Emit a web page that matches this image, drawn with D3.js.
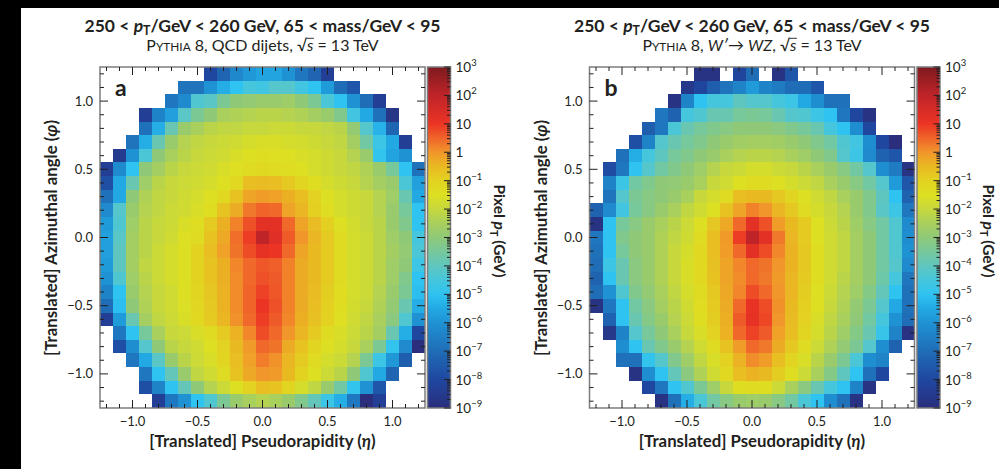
<!DOCTYPE html>
<html>
<head>
<meta charset="utf-8">
<script src="https://cdn.jsdelivr.net/npm/d3@7"></script>
<style>
  html, body { margin: 0; padding: 0; background: #fff; }
  svg { display: block; }
  text { font-family: Lato, "Noto Sans", sans-serif; fill: #231f20; }
</style>
</head>
<body>
<svg id="chart" width="999" height="469"></svg>
<script>
// --- 1. data ---
const _ = null;
const etaBins = [-1.2, -1.1, -1.0, -0.9, -0.8, -0.7, -0.6, -0.5, -0.4, -0.3, -0.2, -0.1, 0.0,
                 0.1, 0.2, 0.3, 0.4, 0.5, 0.6, 0.7, 0.8, 0.9, 1.0, 1.1, 1.2];
const phiBins = [1.2, 1.1, 1.0, 0.9, 0.8, 0.7, 0.6, 0.5, 0.4, 0.3, 0.2, 0.1, 0.0,
                 -0.1, -0.2, -0.3, -0.4, -0.5, -0.6, -0.7, -0.8, -0.9, -1.0, -1.1, -1.2];
const axisTicks = [-1, -0.5, 0, 0.5, 1];
const axisTickLabels = ["\u22121.0", "\u22120.5", "0.0", "0.5", "1.0"];
const colorTickExp = [3, 2, 1, 0, -1, -2, -3, -4, -5, -6, -7, -8, -9];
const colorTickBase = ["10", "10", "10", "1", "10", "10", "10", "10", "10", "10", "10", "10", "10"];
const colorTickSup = ["3", "2", "", "", "\u22121", "\u22122", "\u22123", "\u22124", "\u22125", "\u22126", "\u22127", "\u22128", "\u22129"];

// log10(pixel pT / GeV), rows from phi = +1.2 (top) down to -1.2
const qcdLogPt = [
  [_,_,_,_,_,_,_,_,-8.0,-7.2,-6.3,-5.9,-5.6,-5.6,-6.0,-6.7,-7.2,-8.3,_,_,_,_,_,_,_],
  [_,_,_,_,_,_,-6.8,-6.8,-6.0,-5.4,-5.0,-4.5,-4.6,-4.2,-4.2,-4.6,-5.0,-5.8,-7.0,-7.6,_,_,_,_,_],
  [_,_,_,_,_,-6.7,-6.2,-4.3,-4.1,-3.4,-3.0,-2.9,-2.8,-2.8,-2.7,-3.0,-3.4,-4.4,-5.0,-6.0,-7.0,-8.3,_,_,_],
  [_,_,_,-8.3,-6.4,-5.7,-4.1,-3.4,-3.0,-2.5,-2.4,-2.3,-2.2,-2.2,-2.3,-2.4,-2.6,-2.8,-3.3,-4.6,-5.5,-6.9,-8.7,_,_],
  [_,_,_,-6.9,-5.4,-3.8,-2.8,-2.5,-2.2,-2.1,-2.1,-2.0,-2.0,-1.9,-1.9,-2.0,-2.0,-2.1,-2.2,-2.9,-4.2,-5.3,-7.2,_,_],
  [_,_,-6.8,-5.4,-3.8,-2.8,-2.3,-2.1,-2.0,-1.9,-1.8,-1.7,-1.6,-1.6,-1.7,-1.75,-1.85,-2.0,-2.1,-2.6,-3.6,-4.7,-5.5,-8.3,_],
  [_,-8.5,-6.0,-4.4,-3.0,-2.5,-2.2,-2.0,-1.9,-1.8,-1.6,-1.5,-1.4,-1.45,-1.5,-1.6,-1.7,-1.85,-2.0,-2.3,-2.8,-4.9,-5.6,-6.0,_],
  [-8.3,-6.2,-5.0,-3.0,-2.6,-2.2,-2.0,-1.9,-1.8,-1.6,-1.45,-1.3,-1.25,-1.3,-1.4,-1.5,-1.7,-1.85,-2.0,-2.1,-2.4,-2.8,-3.5,-5.0,-6.9],
  [-7.8,-5.5,-3.8,-2.7,-2.2,-2.0,-1.9,-1.8,-1.7,-1.5,-1.2,-0.6,-0.55,-0.6,-0.8,-1.1,-1.4,-1.7,-1.85,-2.0,-2.3,-2.6,-2.8,-4.4,-5.7],
  [-6.9,-5.5,-3.0,-2.4,-2.1,-2.0,-1.8,-1.7,-1.5,-1.2,-0.7,-0.2,-0.1,-0.15,-0.35,-0.6,-1.0,-1.5,-1.7,-1.85,-2.0,-2.3,-2.7,-3.8,-5.5],
  [-6.2,-4.2,-2.8,-2.3,-2.1,-1.9,-1.8,-1.6,-1.4,-0.7,-0.3,0.3,0.5,0.45,-0.2,-0.45,-0.95,-1.4,-1.7,-1.85,-2.0,-2.3,-2.8,-3.5,-5.0],
  [-5.8,-4.3,-2.7,-2.2,-2.0,-1.9,-1.6,-1.4,-0.85,-0.35,0.2,0.7,1.2,1.2,0.45,-0.2,-0.55,-0.95,-1.5,-1.75,-2.0,-2.2,-2.8,-3.3,-5.0],
  [-5.7,-4.1,-2.6,-2.2,-2.0,-1.8,-1.5,-1.3,-0.7,-0.25,0.4,0.9,2.0,1.3,0.6,0.0,-0.45,-0.85,-1.3,-1.7,-1.9,-2.2,-2.7,-3.0,-4.5],
  [-5.7,-4.0,-2.6,-2.2,-1.9,-1.7,-1.5,-1.05,-0.6,-0.15,0.35,0.75,1.15,1.0,0.45,-0.2,-0.5,-0.85,-1.3,-1.7,-1.9,-2.2,-2.6,-2.9,-4.4],
  [-5.8,-4.0,-2.6,-2.1,-1.9,-1.7,-1.5,-1.05,-0.7,-0.35,0.15,0.45,0.65,0.55,0.2,-0.3,-0.5,-0.85,-1.3,-1.7,-1.9,-2.2,-2.7,-3.0,-4.7],
  [-6.0,-4.3,-2.7,-2.2,-1.9,-1.7,-1.5,-1.05,-0.7,-0.35,0.1,0.45,0.7,0.6,0.2,-0.3,-0.5,-0.85,-1.3,-1.7,-1.9,-2.2,-2.7,-3.3,-5.0],
  [-6.4,-5.0,-2.8,-2.3,-2.0,-1.8,-1.5,-1.1,-0.75,-0.4,0.1,0.5,0.85,0.65,0.2,-0.3,-0.55,-0.9,-1.35,-1.7,-1.9,-2.3,-2.8,-3.4,-5.1],
  [-7.0,-5.1,-3.0,-2.4,-2.0,-1.8,-1.55,-1.15,-0.8,-0.4,0.1,0.5,1.0,0.7,0.2,-0.3,-0.6,-0.95,-1.4,-1.75,-2.0,-2.4,-2.9,-3.8,-5.4],
  [-8.3,-5.8,-3.8,-2.6,-2.1,-1.9,-1.6,-1.2,-0.85,-0.45,0.05,0.45,0.9,0.6,0.15,-0.35,-0.65,-1.0,-1.45,-1.8,-2.1,-2.5,-3.1,-4.3,-6.0],
  [_,-6.7,-5.0,-3.5,-2.5,-2.0,-1.9,-1.6,-1.3,-0.85,-0.4,0.15,0.75,0.45,0.0,-0.45,-0.85,-1.3,-1.6,-1.9,-2.2,-2.6,-3.8,-5.4,-8.0],
  [_,-7.8,-6.1,-4.2,-3.0,-2.2,-2.0,-1.8,-1.5,-1.0,-0.5,-0.05,0.45,0.35,-0.3,-0.7,-1.1,-1.5,-1.7,-2.0,-2.5,-3.4,-4.9,-6.2,-9.0],
  [_,_,-6.7,-5.5,-4.1,-2.8,-2.2,-1.9,-1.6,-1.1,-0.6,-0.15,0.25,0.05,-0.45,-0.85,-1.3,-1.7,-1.9,-2.3,-3.4,-4.7,-5.9,-7.4,_],
  [_,_,_,-6.7,-5.0,-3.9,-2.8,-2.1,-1.8,-1.3,-0.7,-0.25,0.0,-0.05,-0.5,-1.05,-1.5,-1.9,-2.2,-3.0,-4.3,-5.5,-7.2,_,_],
  [_,_,_,-7.8,-6.4,-5.0,-3.9,-3.0,-2.3,-1.9,-1.5,-1.0,-0.6,-0.7,-1.1,-1.7,-2.1,-2.8,-3.6,-4.9,-6.0,-7.6,_,_,_],
  [_,_,_,_,-8.3,-6.7,-6.0,-5.0,-4.3,-3.4,-2.8,-2.5,-2.3,-2.5,-2.8,-3.3,-3.9,-4.7,-5.4,-6.7,-9.0,-8.3,_,_,_]
];

const wzLogPt = [
  [_,_,_,_,_,_,_,_,-8.8,-8.8,_,-8.1,-7.0,_,-8.8,-7.6,_,_,_,_,_,_,_,_,_],
  [_,_,_,_,_,_,_,-8.6,-8.1,-7.4,-6.8,-6.4,-5.8,-6.4,-6.6,-7.0,-7.0,-7.6,_,_,_,_,_,_,_],
  [_,_,_,_,_,_,-8.8,-6.4,-5.0,-4.5,-4.5,-4.0,-4.2,-4.2,-4.5,-4.7,-5.5,-6.1,-6.9,-6.9,_,_,_,_,_],
  [_,_,_,_,_,-6.7,-7.3,-4.5,-4.3,-3.8,-3.8,-3.5,-3.4,-3.5,-3.8,-4.2,-4.3,-4.7,-5.0,-6.7,-8.0,-8.8,_,_,_],
  [_,_,_,_,-7.4,-6.7,-4.4,-3.8,-3.5,-3.3,-3.15,-3.0,-3.0,-3.0,-3.1,-3.3,-3.5,-3.8,-4.5,-5.0,-6.1,-8.0,_,_,_],
  [_,_,_,-7.8,-6.4,-4.2,-3.8,-3.5,-3.3,-3.0,-2.8,-2.65,-2.6,-2.6,-2.65,-2.8,-3.0,-3.3,-3.6,-4.3,-4.6,-6.1,-8.0,-9.0,_],
  [_,_,-6.9,-5.4,-4.5,-4.0,-3.5,-3.3,-3.0,-2.8,-2.5,-2.3,-2.2,-2.2,-2.3,-2.5,-2.7,-3.0,-3.3,-4.2,-4.7,-6.2,-7.3,-7.6,_],
  [_,-7.9,-6.7,-5.0,-4.2,-3.6,-3.3,-3.0,-2.7,-2.3,-2.0,-1.9,-1.7,-1.7,-1.9,-2.0,-2.2,-2.5,-2.8,-3.15,-3.6,-4.2,-6.1,-6.6,-8.8],
  [_,-6.4,-4.7,-3.6,-3.3,-3.0,-2.95,-2.8,-2.5,-2.0,-1.8,-1.5,-1.3,-1.3,-1.5,-1.7,-1.9,-2.1,-2.5,-2.8,-3.15,-3.6,-4.2,-5.8,-7.6],
  [_,-6.8,-4.2,-3.4,-3.15,-3.0,-2.8,-2.5,-2.0,-1.7,-1.3,-0.6,-0.5,-0.5,-0.8,-1.1,-1.5,-1.8,-2.1,-2.5,-2.8,-3.3,-4.0,-5.0,-7.3],
  [-7.3,-6.2,-4.6,-3.5,-3.15,-2.8,-2.5,-2.1,-1.8,-1.5,-0.7,-0.2,0.2,0.0,-0.45,-0.8,-1.3,-1.7,-2.0,-2.3,-2.8,-3.3,-4.1,-4.7,-6.7],
  [-8.8,-5.0,-3.5,-3.15,-2.8,-2.5,-2.2,-1.9,-1.5,-0.75,-0.25,0.45,1.2,0.7,-0.1,-0.5,-0.85,-1.5,-1.9,-2.2,-2.7,-3.15,-3.6,-4.3,-6.2],
  [-6.7,-5.0,-3.3,-3.0,-2.8,-2.4,-2.1,-1.8,-1.3,-0.6,-0.05,0.9,2.0,1.2,0.3,-0.45,-0.85,-1.5,-1.8,-2.1,-2.6,-3.0,-3.6,-4.3,-6.1],
  [-6.9,-5.0,-3.5,-3.0,-2.8,-2.4,-2.0,-1.7,-1.2,-0.6,-0.1,0.45,1.2,0.75,0.15,-0.4,-0.8,-1.4,-1.8,-2.1,-2.6,-3.0,-3.6,-4.3,-6.0],
  [-7.0,-4.7,-3.8,-3.1,-2.8,-2.4,-2.0,-1.6,-1.2,-0.65,-0.2,0.15,0.45,0.35,0.0,-0.4,-0.8,-1.4,-1.8,-2.1,-2.6,-3.0,-3.6,-4.2,-6.2],
  [-7.3,-5.0,-3.8,-3.1,-2.8,-2.4,-2.0,-1.6,-1.2,-0.7,-0.2,0.1,0.45,0.3,-0.05,-0.45,-0.85,-1.4,-1.8,-2.2,-2.6,-3.0,-3.7,-4.5,-6.7],
  [-7.0,-6.0,-4.3,-3.3,-2.9,-2.5,-2.1,-1.7,-1.3,-0.8,-0.25,0.15,0.75,0.45,0.0,-0.45,-0.9,-1.5,-1.9,-2.3,-2.7,-3.2,-3.9,-5.0,-6.9],
  [-8.8,-6.7,-5.0,-3.6,-3.1,-2.6,-2.2,-1.8,-1.35,-0.85,-0.3,0.45,1.1,0.75,0.05,-0.5,-0.95,-1.5,-2.0,-2.4,-2.9,-3.4,-4.2,-5.5,-6.9],
  [_,-7.3,-5.0,-3.8,-3.2,-2.8,-2.3,-1.9,-1.4,-0.9,-0.35,0.6,1.15,0.8,0.0,-0.55,-1.0,-1.6,-2.1,-2.5,-3.0,-3.6,-4.5,-6.0,-7.0],
  [_,-8.6,-6.4,-4.2,-3.5,-3.0,-2.5,-2.0,-1.6,-1.0,-0.4,0.45,0.85,0.6,-0.15,-0.6,-1.1,-1.7,-2.2,-2.7,-3.2,-3.8,-4.8,-6.4,-8.8],
  [_,_,-6.1,-5.0,-3.8,-3.3,-2.8,-2.3,-1.8,-1.3,-0.7,-0.1,0.45,0.3,-0.3,-0.8,-1.3,-1.9,-2.4,-2.9,-3.4,-4.2,-6.1,-7.3,_],
  [_,_,-6.9,-6.9,-4.9,-4.2,-3.3,-2.7,-2.1,-1.6,-1.0,-0.4,0.1,-0.1,-0.6,-1.1,-1.6,-2.2,-2.8,-3.4,-4.4,-6.1,-6.4,_,_],
  [_,_,_,-8.8,-6.1,-5.0,-3.9,-3.1,-2.4,-1.8,-1.2,-0.6,-0.4,-0.5,-0.9,-1.4,-1.9,-2.5,-3.2,-4.0,-5.0,-6.9,-8.0,_,_],
  [_,_,_,_,-8.0,-6.7,-5.0,-4.3,-3.4,-2.7,-2.0,-1.4,-1.3,-1.4,-1.9,-2.5,-3.1,-3.8,-4.5,-5.0,-6.4,-8.8,_,_,_],
  [_,_,_,_,_,-8.8,-6.9,-5.4,-4.4,-3.6,-3.15,-2.8,-2.7,-2.8,-3.15,-3.6,-4.4,-5.0,-6.1,-6.9,-8.8,_,_,_,_]
];

// palette of the colour bar (log10 value -> colour)
const paletteLog = [3, 2, 1, 0.5, 0, -0.5, -1, -1.5, -2, -2.5, -3, -3.5, -4, -4.5, -5, -5.5, -6, -7, -8, -9];
const paletteHex = ["#7d1a1e", "#bf2429", "#ec3424", "#f0642a", "#f1962a", "#e9b922", "#e3d221", "#dde022",
                    "#c6d83c", "#a9cf5d", "#8fc978", "#77c89b", "#5fc6bf", "#45c6dc", "#2fc3f1", "#22a9e3",
                    "#1f92d4", "#1f6db6", "#1f47a0", "#2a2e7c"];

// --- 2. canvas ---
const svg = d3.select("#chart");
svg.append("rect").attr("x", 0).attr("y", 0).attr("width", 999).attr("height", 469).attr("fill", "#fff");
svg.append("rect").attr("x", 0).attr("y", 0).attr("width", 999).attr("height", 8).attr("fill", "#000");
svg.append("rect").attr("x", 0).attr("y", 0).attr("width", 21).attr("height", 469).attr("fill", "#000");

const color = d3.scaleLinear().domain(paletteLog).range(paletteHex)
    .interpolate(d3.interpolateRgb).clamp(true);

const plotTop = 67, plotBottom = 408, plotW = 325;

// gradient for the colour bars
const grad = svg.append("defs").append("linearGradient")
    .attr("id", "zgrad").attr("x1", 0).attr("y1", 0).attr("x2", 0).attr("y2", 1);
grad.selectAll("stop").data(paletteLog).enter().append("stop")
    .attr("offset", d => (3 - d) / 12)
    .attr("stop-color", d => color(d));

// rich text helper: parts = [{t, it, sub, sup, sc, ov}]
// returns the char indexes of parts flagged "ov" (overlined)
function richText(sel, parts, size) {
  let shifted = 0, idx = 0;
  const over = [];
  parts.forEach(p => {
    const ts = sel.append("tspan").text(p.t);
    let dy = 0;
    if (p.sub) { dy = 3.5 - shifted; shifted = 3.5; }
    else if (p.sup) { dy = -6 - shifted; shifted = -6; }
    else if (shifted !== 0) { dy = -shifted; shifted = 0; }
    if (dy) ts.attr("dy", dy);
    if (p.it) ts.attr("font-style", "italic");
    if (p.sub || p.sup) ts.attr("font-size", size * 0.7);
    if (p.sc) ts.attr("font-size", size * 0.74);
    if (p.ov) over.push(idx);
    idx += p.t.length;
  });
  return over;
}

// --- 3. one panel ---
function drawPanel(p) {
  const g = svg.append("g").attr("class", "panel-" + p.tag);
  const left = p.left, right = p.left + plotW;
  const x = d3.scaleLinear().domain([-1.25, 1.25]).range([left, right]);
  const y = d3.scaleLinear().domain([-1.25, 1.25]).range([plotBottom, plotTop]);

  // cells
  const cells = [];
  p.grid.forEach((row, r) => row.forEach((v, c) => {
    if (v !== null) cells.push({ eta: etaBins[c], phi: phiBins[r], v: v });
  }));
  g.selectAll("rect.cell").data(cells).enter().append("rect")
      .attr("class", "cell")
      .attr("x", d => x(d.eta - 0.05))
      .attr("y", d => y(d.phi + 0.05))
      .attr("width", d => x(d.eta + 0.05) - x(d.eta - 0.05))
      .attr("height", d => y(d.phi - 0.05) - y(d.phi + 0.05))
      .attr("fill", d => color(d.v))
      .attr("shape-rendering", "crispEdges");

  // frame + ticks on all four sides
  g.append("rect").attr("x", left).attr("y", plotTop).attr("width", plotW)
      .attr("height", plotBottom - plotTop)
      .attr("fill", "none").attr("stroke", "#7d7d7d").attr("stroke-width", 1.5);

  const minor = x.ticks(25);
  const isMajor = v => Math.abs(v * 2 - Math.round(v * 2)) < 1e-6;
  const tk = g.append("g").attr("stroke", "#231f20").attr("stroke-width", 1);
  minor.forEach(v => {
    const len = isMajor(v) ? 8 : 4;
    tk.append("line").attr("x1", x(v)).attr("x2", x(v)).attr("y1", plotBottom).attr("y2", plotBottom - len);
    tk.append("line").attr("x1", x(v)).attr("x2", x(v)).attr("y1", plotTop).attr("y2", plotTop + len);
    tk.append("line").attr("y1", y(v)).attr("y2", y(v)).attr("x1", left).attr("x2", left + len);
    tk.append("line").attr("y1", y(v)).attr("y2", y(v)).attr("x1", right).attr("x2", right - len);
  });

  // tick labels
  g.selectAll(".xlab").data(axisTicks).enter().append("text")
      .attr("x", d => x(d)).attr("y", 425.5)
      .attr("text-anchor", "middle").attr("font-size", 13)
      .text((d, i) => axisTickLabels[i]);
  g.selectAll(".ylab").data(axisTicks).enter().append("text")
      .attr("x", left - 7).attr("y", d => y(d) + 4.5)
      .attr("text-anchor", "end").attr("font-size", 13)
      .text((d, i) => axisTickLabels[i]);

  // panel letter
  g.append("text").attr("x", left + 15).attr("y", 96)
      .attr("font-size", 23).attr("font-weight", "bold").text(p.tag);

  // titles
  const cx = left + plotW / 2;
  richText(g.append("text").attr("x", cx).attr("y", 31.5).attr("text-anchor", "middle")
      .attr("font-size", 17.5).attr("font-weight", "bold"),
      [{ t: "250 < " }, { t: "p", it: true }, { t: "T", sub: true }, { t: "/GeV < 260 GeV, 65 < mass/GeV < 95" }], 17.5);
  const sub = g.append("text").attr("x", cx).attr("y", 50.5).attr("text-anchor", "middle")
      .attr("font-size", 16);
  const overIdx = richText(sub, p.subtitle, 16);
  // overline of the square root, drawn just above the "s"
  overIdx.forEach(i => {
    const ext = sub.node().getExtentOfChar(i);
    g.append("line").attr("x1", ext.x - 0.5).attr("x2", ext.x + ext.width + 0.5)
        .attr("y1", 50.5 - 12.2).attr("y2", 50.5 - 12.2)
        .attr("stroke", "#231f20").attr("stroke-width", 0.9);
  });

  // axis titles
  richText(g.append("text").attr("x", cx).attr("y", 447).attr("text-anchor", "middle")
      .attr("font-size", 16.8).attr("font-weight", "bold"),
      [{ t: "[Translated] Pseudorapidity (" }, { t: "\u03b7", it: true }, { t: ")" }], 16.8);
  richText(g.append("text").attr("transform", `translate(${left - 43},238) rotate(-90)`)
      .attr("text-anchor", "middle").attr("font-size", 16.8).attr("font-weight", "bold"),
      [{ t: "[Translated] Azimuthal angle (" }, { t: "\u03c6", it: true }, { t: ")" }], 16.8);

  // colour bar
  const bx = right + 2.5, bw = 23;
  const z = d3.scaleLog().domain([1e-9, 1e3]).range([plotBottom, plotTop]);
  g.append("rect").attr("x", bx).attr("y", plotTop).attr("width", bw).attr("height", plotBottom - plotTop)
      .attr("fill", "url(#zgrad)").attr("stroke", "#7d7d7d").attr("stroke-width", 1.5);
  const ztk = g.append("g").attr("stroke", "#231f20").attr("stroke-width", 1);
  z.ticks(200).forEach(v => {
    const lg = Math.log10(v);
    const major = Math.abs(lg - Math.round(lg)) < 1e-9;
    ztk.append("line").attr("x1", bx + bw).attr("x2", bx + bw - (major ? 6.5 : 3.5))
        .attr("y1", z(v)).attr("y2", z(v));
  });
  colorTickExp.forEach((e, i) => {
    const t = g.append("text").attr("x", bx + bw + 5).attr("y", z(Math.pow(10, e)) + 5)
        .attr("font-size", 13.5);
    const parts = [{ t: colorTickBase[i] }];
    if (colorTickSup[i]) parts.push({ t: colorTickSup[i], sup: true });
    richText(t, parts, 13.5);
  });
  richText(g.append("text").attr("transform", `translate(${bx + bw + 43},231) rotate(90)`)
      .attr("text-anchor", "middle").attr("font-size", 15.5).attr("font-weight", "bold"),
      [{ t: "Pixel " }, { t: "p", it: true }, { t: "T", sub: true }, { t: " (GeV)" }], 15.5);
}

const panels = [
  { tag: "a", left: 100, grid: qcdLogPt,
    subtitle: [{ t: "P" }, { t: "YTHIA", sc: true }, { t: " 8, QCD dijets, \u221a" }, { t: "s", it: true, ov: true }, { t: " = 13 TeV" }] },
  { tag: "b", left: 589.5, grid: wzLogPt,
    subtitle: [{ t: "P" }, { t: "YTHIA", sc: true }, { t: " 8, " }, { t: "W\u2032", it: true }, { t: "\u2192 " },
               { t: "WZ", it: true }, { t: ", \u221a" }, { t: "s", it: true, ov: true }, { t: " = 13 TeV" }] }
];
panels.forEach(drawPanel);
</script>
</body>
</html>
